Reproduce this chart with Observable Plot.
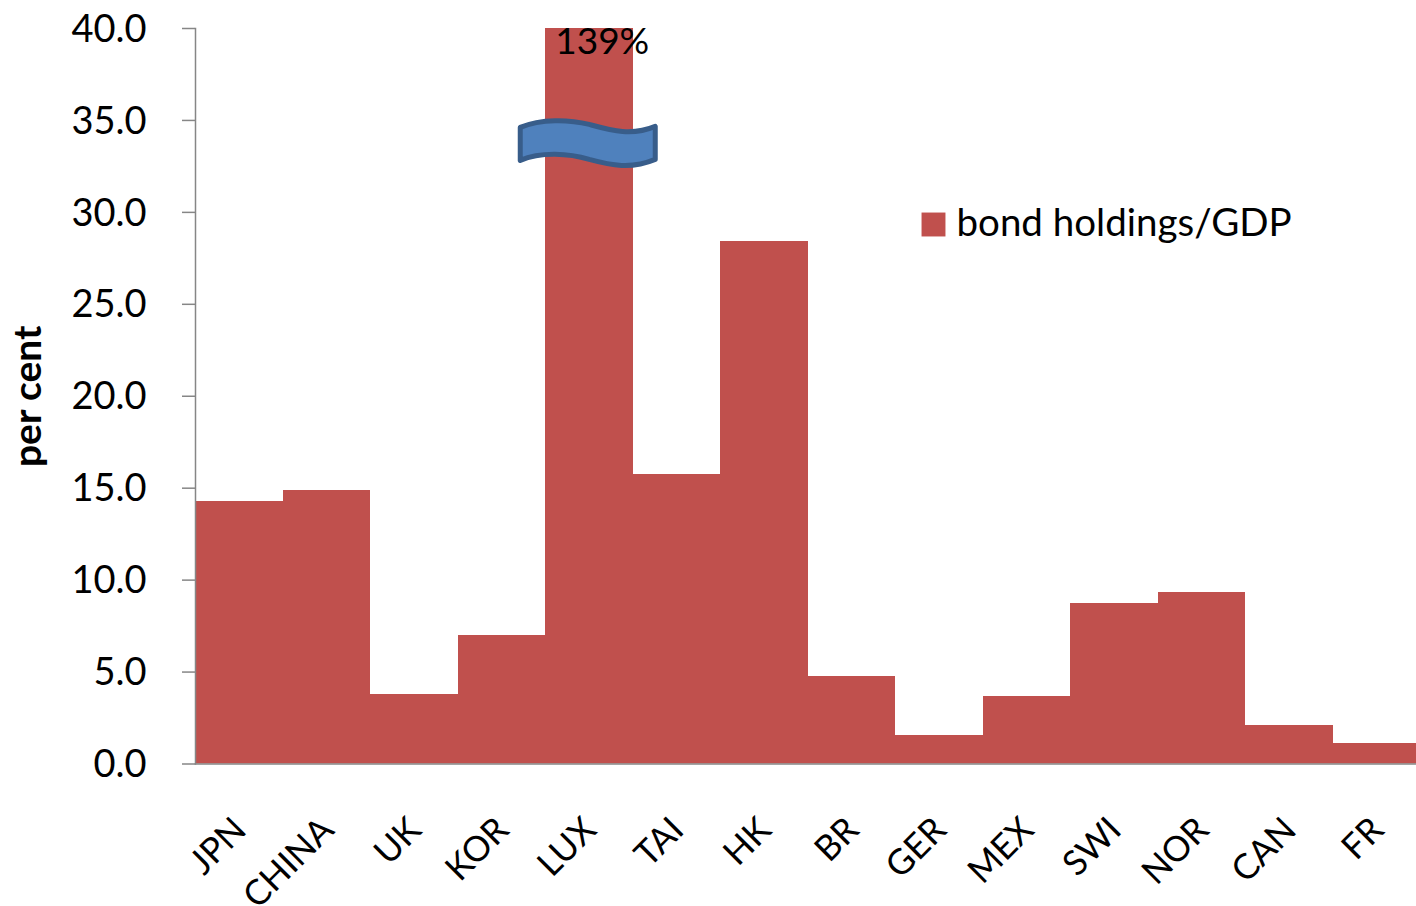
<!DOCTYPE html>
<html>
<head>
<meta charset="utf-8">
<script src="https://cdn.jsdelivr.net/npm/d3@7"></script>
<script src="https://cdn.jsdelivr.net/npm/@observablehq/plot@0.6"></script>
<style>
  html, body { margin: 0; padding: 0; background: #fff; overflow: hidden; }
  svg { display: block; }
</style>
</head>
<body>
<div id="chart"></div>
<script>
const countries = ["JPN", "CHINA", "UK", "KOR", "LUX", "TAI", "HK", "BR", "GER", "MEX", "SWI", "NOR", "CAN", "FR"];
const bondHoldings = [14.25, 14.9, 3.8, 7.0, 139, 15.75, 28.4, 4.75, 1.55, 3.67, 8.73, 9.35, 2.07, 1.14];
const yTicks = [0, 5, 10, 15, 20, 25, 30, 35, 40];
const seriesName = "bond holdings/GDP";
const yTitle = "per cent";

const rows = countries.map((country, i) => ({country, value: bondHoldings[i]}));
const outlier = rows.find((d) => d.value > 40);

const barColor = "#c0504d";
const axisColor = "#868686";
const font = "Lato, 'Open Sans', sans-serif";

// Ribbon glyph marking the broken axis on the bar that runs off the scale.
const axisBreak = {
  draw(ctx) {
    ctx.moveTo(-69, -16);
    ctx.bezierCurveTo(-48, -25, -20, -24, 0, -19);
    ctx.bezierCurveTo(22, -13, 42, -7, 66, -17);
    ctx.lineTo(66, 16);
    ctx.bezierCurveTo(42, 26, 22, 22, 0, 16);
    ctx.bezierCurveTo(-20, 10, -48, 8, -69, 17);
    ctx.closePath();
  }
};

const chart = Plot.plot({
  width: 1416,
  height: 906,
  marginLeft: 195,
  marginRight: 0,
  marginTop: 28,
  marginBottom: 142.5,
  style: {fontFamily: font, background: "#fff", color: "#000"},
  x: {type: "band", domain: countries, range: [195, 1420], padding: 0, round: false, axis: null},
  y: {domain: [0, 40]},
  marks: [
    Plot.barY(rows, {x: "country", y: "value", fill: barColor, inset: 0, clip: true, shapeRendering: "crispEdges"}),
    Plot.frame({anchor: "left", stroke: axisColor, strokeWidth: 1.5, strokeOpacity: 1}),
    Plot.frame({anchor: "bottom", stroke: axisColor, strokeWidth: 1.5, strokeOpacity: 1}),
    Plot.axisY({
      ticks: yTicks,
      tickFormat: () => "",
      tickSize: 13,
      stroke: axisColor,
      strokeWidth: 1.5,
      strokeOpacity: 1,
      label: null
    }),
    Plot.text(yTicks, {
      y: (d) => d,
      frameAnchor: "left",
      textAnchor: "end",
      text: (d) => d.toFixed(1),
      dx: -49,
      dy: 1,
      fontSize: 38,
      fill: "#000"
    }),
    Plot.text(countries, {
      x: (d) => d,
      frameAnchor: "bottom",
      text: (d) => d,
      rotate: -45,
      textAnchor: "end",
      dx: 9,
      dy: 68,
      fontSize: 35,
      fill: "#000"
    }),
    Plot.text([yTitle], {
      frameAnchor: "left",
      text: (d) => d,
      textAnchor: "middle",
      rotate: -90,
      dx: -167,
      fontSize: 39,
      fontWeight: "bold",
      fill: "#000"
    }),
    Plot.dot([outlier], {
      x: "country",
      y: () => 33.75,
      symbol: axisBreak,
      r: 10,
      fill: "#4f81bd",
      stroke: "#385d8a",
      strokeWidth: 5,
      strokeLinejoin: "round"
    }),
    Plot.text([outlier], {
      x: "country",
      y: () => 39.25,
      text: (d) => `${d.value}%`,
      dx: 13,
      fontSize: 37,
      fill: "#000"
    }),
    Plot.dot([seriesName], {
      frameAnchor: "top-left",
      symbol: "square",
      r: 13.5,
      dx: 738,
      dy: 196,
      fill: barColor
    }),
    Plot.text([seriesName], {
      frameAnchor: "top-left",
      text: (d) => d,
      textAnchor: "start",
      lineAnchor: "middle",
      dx: 761,
      dy: 195,
      fontSize: 38.5,
      fill: "#000"
    })
  ]
});
document.getElementById("chart").appendChild(chart);
</script>
</body>
</html>
